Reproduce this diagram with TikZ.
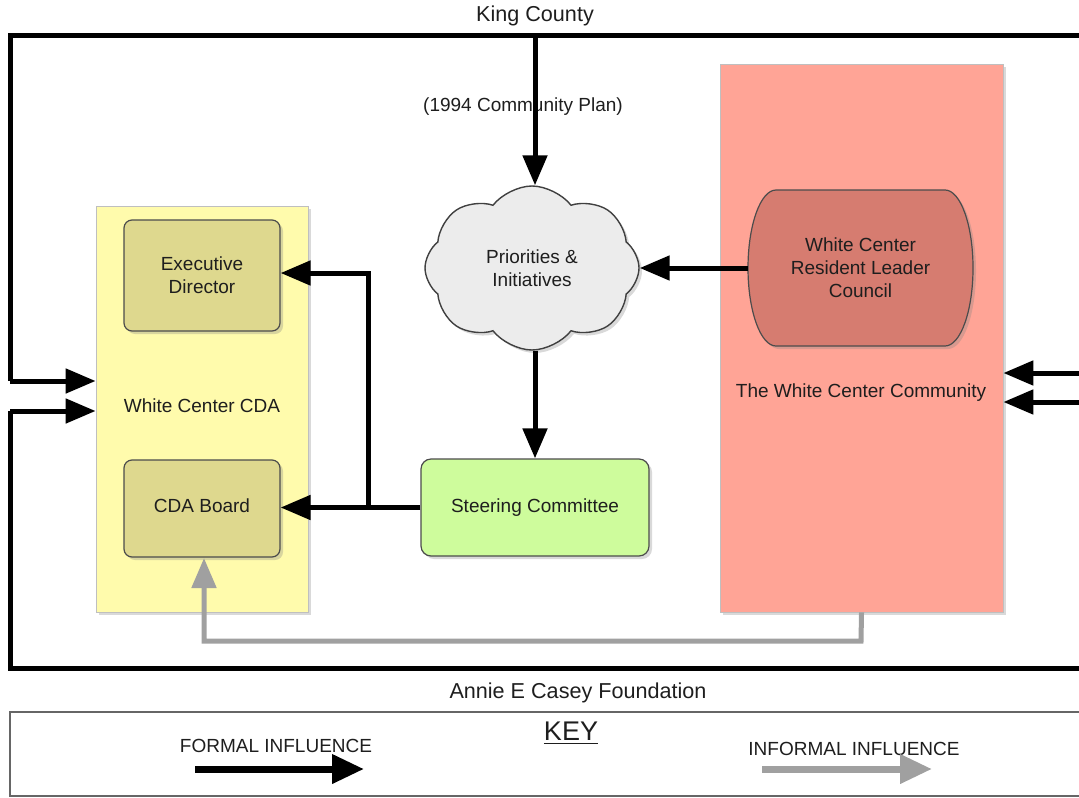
\documentclass[tikz,border=0pt]{standalone}
\usepackage{fontspec}
\setmainfont{Liberation Sans}
\usetikzlibrary{arrows.meta,shapes.symbols,shadows,positioning}
\definecolor{cdayellow}{RGB}{255,251,172}
\definecolor{execolive}{RGB}{222,216,142}
\definecolor{steergreen}{RGB}{206,252,156}
\definecolor{commsalmon}{RGB}{255,164,150}
\definecolor{councilred}{RGB}{214,124,112}
\definecolor{cloudgray}{RGB}{236,236,236}
\definecolor{infgray}{RGB}{160,160,160}
\definecolor{txtdark}{RGB}{30,30,30}
\tikzset{
  formal/.style={line width=2.5pt,-{Triangle[length=15pt,width=12pt]}},
  informal/.style={formal,infgray},
  frame/.style={line width=2.5pt},
  softshadow/.style={drop shadow={shadow xshift=1.5pt,shadow yshift=-1.5pt,opacity=0.3}},
  bigbox/.style={softshadow,draw=black!25,line width=0.4pt,inner sep=0pt},
  subbox/.style={softshadow,draw=black!70,line width=0.6pt,rounded corners=4pt,align=center}
}
\begin{document}
\begin{tikzpicture}[x=0.5pt,y=-0.5pt,font=\fontsize{9.5}{11.5}\selectfont,text=txtdark]
  \useasboundingbox (0,0) rectangle (1079,797);
  %Titles
  \node (king) at (535,16) {\fontsize{10.8}{13}\selectfont King County};
  \node (annie) at (578,693) {\fontsize{10.8}{13}\selectfont Annie E Casey Foundation};
  \node (plan) at (523,107) {(1994 Community Plan)};

  %Big boxes
  \node[bigbox,fill=cdayellow,minimum width=106pt,minimum height=203pt] (cda) at (202,409) {};
  \node (cdalabel) at (202,406) {White Center CDA};
  \node[bigbox,fill=commsalmon,minimum width=141.5pt,minimum height=274pt] (comm) at (861.5,338) {};
  \node (commlabel) at (861,393) {The White Center Community};

  %Inner nodes
  \node[subbox,fill=execolive,minimum width=78pt,minimum height=55.5pt] (exec) at (202,275.5) {Executive\\Director};
  \node[subbox,fill=execolive,minimum width=78pt,minimum height=48.5pt] (board) at (202,508.5) {\raisebox{2.5pt}{CDA Board}};
  \node[subbox,fill=steergreen,minimum width=114pt,minimum height=48.5pt,rounded corners=5pt] (steer) at (535,507.5) {Steering Committee};
  \node[softshadow,cloud,cloud puffs=8,cloud puff arc=105,aspect=1.3,draw=black!75,line width=0.7pt,fill=cloudgray,
        minimum width=107pt,minimum height=82pt,align=center] (prio) at (532,268) {Priorities \&\\Initiatives};
  %Council outline with bulging ends
  \path[softshadow,draw=black!70,line width=0.6pt,fill=councilred]
    (776,190) -- (945,190) arc[start angle=90,end angle=-90,x radius=14pt,y radius=39pt]
    -- (776,346) arc[start angle=270,end angle=90,x radius=14pt,y radius=39pt] -- cycle;
  \node[minimum width=112.5pt,minimum height=78pt,align=center] (council) at (860.5,268) {White Center\\Resident Leader\\Council};

  %Outer frame
  \coordinate (kcr) at (1079,36);
  \coordinate (aer) at (1079,668);
  \draw[frame] (kcr) -- (10,36) -- (10,381);
  \draw[formal] (10,381) -- (cda.west |- 0,381);
  \draw[frame] (aer) -- (10,668) -- (10,411);
  \draw[formal] (10,411) -- (cda.west |- 0,411);
  \draw[formal] (1079,373) -- (comm.east |- 0,373);
  \draw[formal] (1079,402) -- (comm.east |- 0,402);

  %Formal influence
  \draw[formal] (steer.north |- kcr) -- (steer.north |- prio.north);
  \draw[formal] (council.west) -- (prio.east |- council.west);
  \draw[formal] (steer.north |- prio.south) -- (steer.north);
  \draw[formal] (steer.west) -- (board.east |- steer.west);
  \draw[formal] (368,507.5) -- (368,273) -- (exec.east |- 0,273);

  %Informal influence
  \draw[informal] (comm.south) -- (861,641) -- (204,641) -- (204,558);

  %Key
  \draw[black!60,line width=0.8pt] (10,712) rectangle (1090,796);
  \node (key) at (571,733) {\fontsize{13.5}{16}\selectfont\underline{KEY}};
  \node (formlabel) at (276,746) {FORMAL INFLUENCE};
  \node (inflabel) at (854,749) {INFORMAL INFLUENCE};
  \coordinate (fa) at (195,769);
  \coordinate (fb) at (364,769);
  \coordinate (ia) at (762,769);
  \coordinate (ib) at (932,769);
  \draw[line width=3.5pt,-{Triangle[length=16pt,width=14pt]}] (fa) -- (fb);
  \draw[line width=3.5pt,infgray,-{Triangle[length=16pt,width=14pt]}] (ia) -- (ib);
\end{tikzpicture}
\end{document}
